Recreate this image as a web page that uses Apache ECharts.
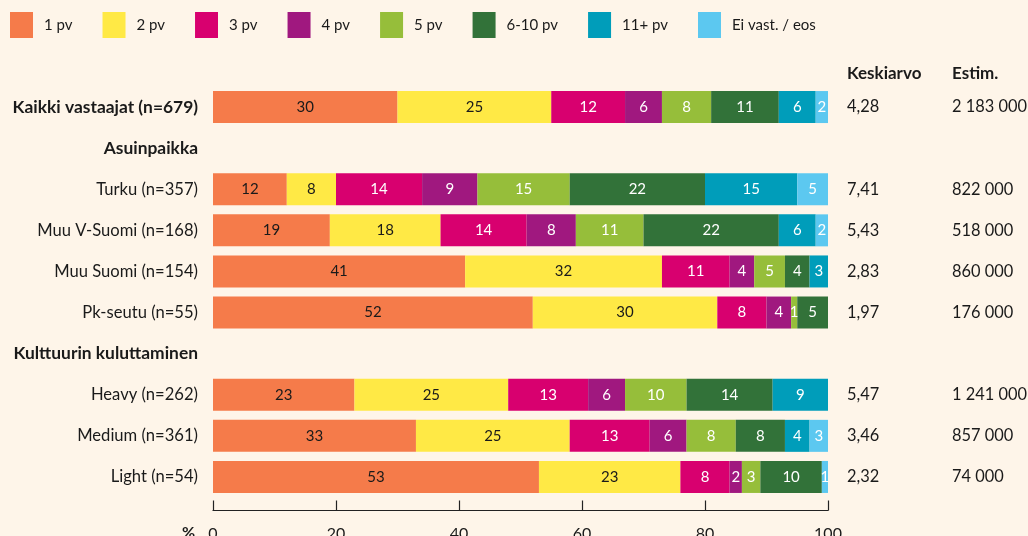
<!DOCTYPE html>
<html><head><meta charset="utf-8">
<script src="https://cdn.jsdelivr.net/npm/echarts@6/dist/echarts.min.js"></script>
<style>html,body{margin:0;padding:0;background:#fef5e9;}#c{width:1028px;height:536px;}</style>
</head><body><div id="c"></div>
<script>
const categories = ['Kaikki vastaajat (n=679)','Asuinpaikka','Turku (n=357)','Muu V-Suomi (n=168)','Muu Suomi (n=154)','Pk-seutu (n=55)','Kulttuurin kuluttaminen','Heavy (n=262)','Medium (n=361)','Light (n=54)'];
const boldRows = ['Kaikki vastaajat (n=679)','Asuinpaikka','Kulttuurin kuluttaminen'];
const seriesNames = ['1 pv','2 pv','3 pv','4 pv','5 pv','6-10 pv','11+ pv','Ei vast. / eos'];
const v1pv  = [30,null,12,19,41,52,null,23,33,53];
const v2pv  = [25,null,8,18,32,30,null,25,25,23];
const v3pv  = [12,null,14,14,11,8,null,13,13,8];
const v4pv  = [6,null,9,8,4,4,null,6,6,2];
const v5pv  = [8,null,15,11,5,1,null,10,8,3];
const v610  = [11,null,22,22,4,5,null,14,8,10];
const v11   = [6,null,15,6,3,0,null,9,4,0];
const vEi   = [2,null,5,2,0,0,null,0,3,1];
const keskiarvo = ['4,28','','7,41','5,43','2,83','1,97','','5,47','3,46','2,32'];
const estim = ['2 183 000','','822 000','518 000','860 000','176 000','','1 241 000','857 000','74 000'];
const xTicks = [0,20,40,60,80,100];

const seriesValues = [v1pv,v2pv,v3pv,v4pv,v5pv,v610,v11,vEi];
const colors = ['#f57b4a','#ffe945','#d8006f','#a0187f','#96be3a','#327239','#009dba','#5cc8f0'];
const labelColors = ['#1a1a1a','#1a1a1a','#fff','#fff','#fff','#fff','#fff','#fff'];
const FONT = 'Lato';
const TXT = '#1a1a1a';

const chart = echarts.init(document.getElementById('c'));
const series = seriesNames.map((n,i)=>({
  name:n, type:'bar', stack:'all', barWidth:32,
  data: seriesValues[i].map(v => (v===null||v===0) ? '-' : v),
  itemStyle:{color:colors[i]},
  label:{show:true, position:'inside', color:labelColors[i], fontFamily:FONT, fontSize:15,
    formatter:p => (p.value==='-'||!p.value) ? '' : p.value},
  emphasis:{disabled:true}
}));

chart.setOption({
  backgroundColor:'#fef5e9',
  animation:false,
  textStyle:{fontFamily:FONT},
  color:colors,
  legend:{left:10, top:12, padding:0, itemWidth:23, itemHeight:26, itemGap:30, icon:'rect',
    textStyle:{fontFamily:FONT, fontSize:15, color:TXT, padding:[0,0,0,6]},
    data:seriesNames},
  grid:{left:213, right:200, top:86.5, bottom:38.5, containLabel:false, outerBoundsMode:'none'},
  xAxis:{type:'value', min:0, max:100, interval:20, offset:13,
    axisLine:{show:true, lineStyle:{color:'#222', width:1.2}},
    axisTick:{show:true, inside:true, length:10, lineStyle:{color:'#222', width:1.2}},
    splitLine:{show:false},
    axisLabel:{fontFamily:FONT, fontSize:16, color:TXT, margin:15,
      formatter:v => xTicks.includes(v) ? String(v) : ''}},
  yAxis:[
    {type:'category', inverse:true, data:categories,
      axisLine:{show:false}, axisTick:{show:false},
      axisLabel:{margin:15, fontSize:16.6, color:TXT, fontFamily:FONT,
        formatter:v => boldRows.includes(v) ? '{b|'+v+'}' : v,
        rich:{b:{fontWeight:'bold', fontSize:17.4, color:TXT, fontFamily:FONT}}}},
    {type:'category', inverse:true, data:categories, position:'right', offset:0,
      axisLine:{show:false}, axisTick:{show:false},
      axisLabel:{margin:19, fontSize:16.4, color:TXT, fontFamily:FONT, align:'left',
        formatter:(v,i)=>keskiarvo[i]}},
    {type:'category', inverse:true, data:categories, position:'right', offset:105,
      axisLine:{show:false}, axisTick:{show:false},
      axisLabel:{margin:19, fontSize:16.4, color:TXT, fontFamily:FONT, align:'left',
        formatter:(v,i)=>estim[i]}}
  ],
  graphic:[
    {type:'text', left:847, top:65, style:{text:'Keskiarvo', font:'bold 17px '+FONT, fill:TXT}},
    {type:'text', left:952, top:65, style:{text:'Estim.', font:'bold 17px '+FONT, fill:TXT}},
    {type:'text', left:182, top:525, style:{text:'%', font:'bold 16px '+FONT, fill:TXT}}
  ],
  series:series
});
</script></body></html>
